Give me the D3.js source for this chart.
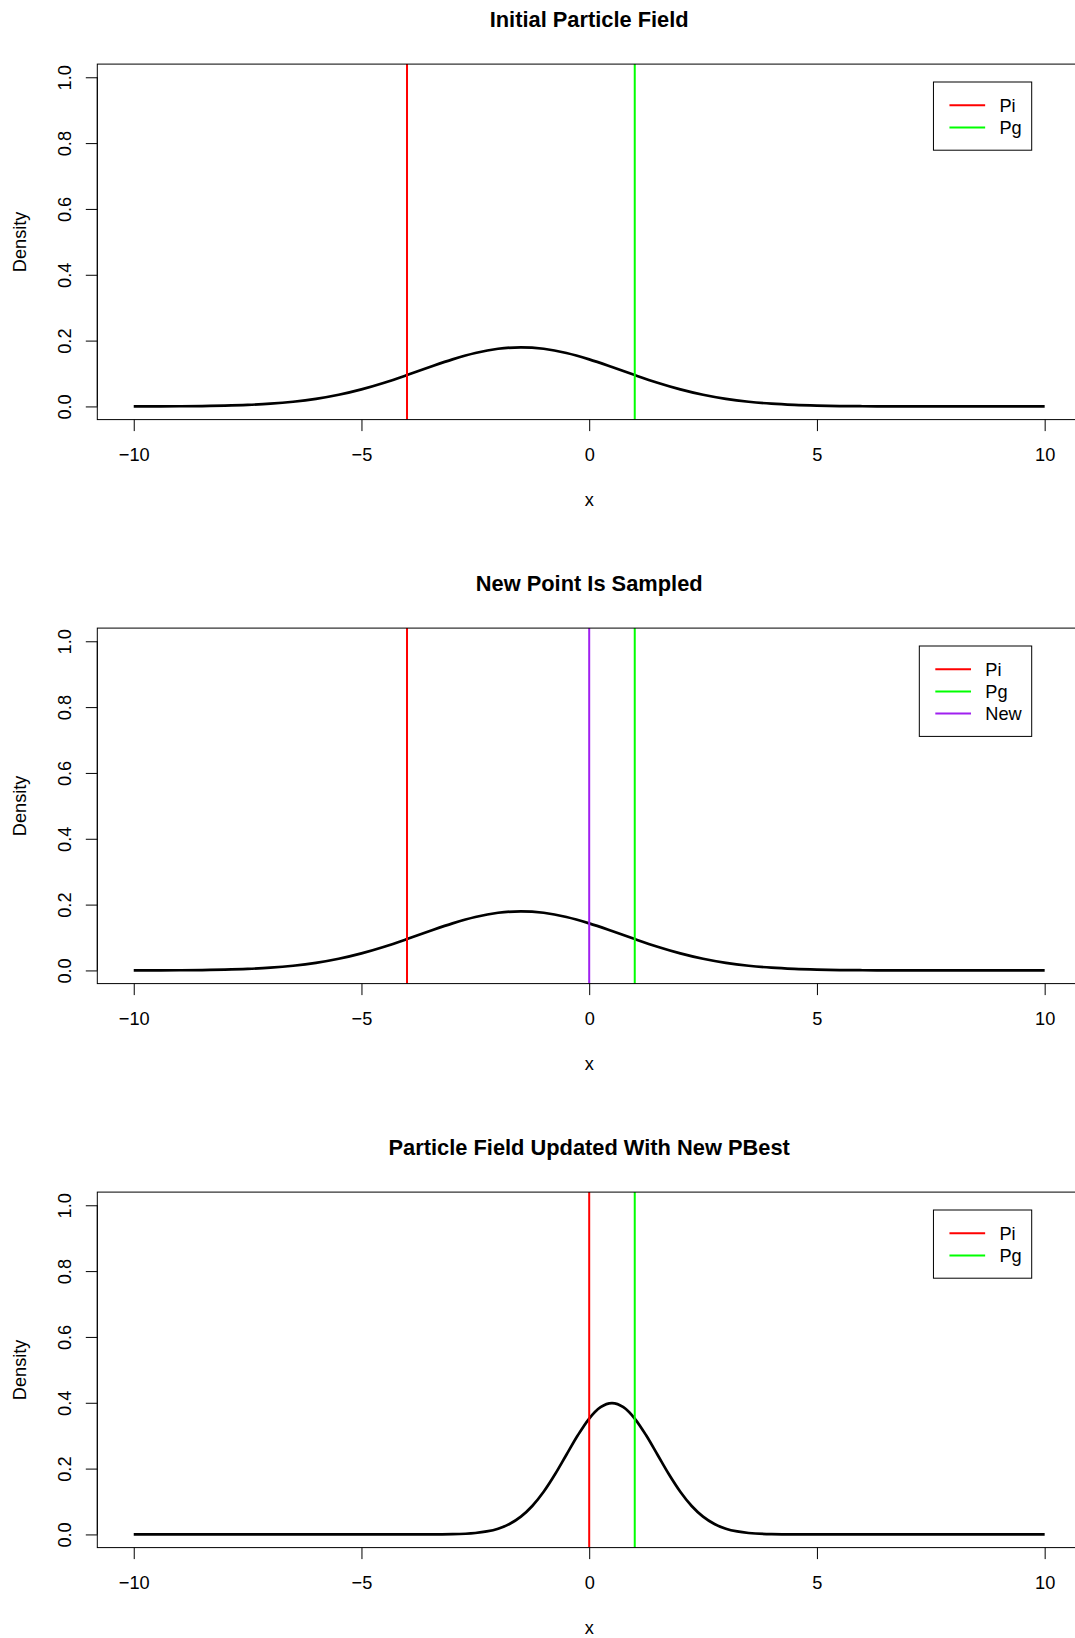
<!DOCTYPE html>
<html>
<head>
<meta charset="utf-8">
<script src="https://cdn.jsdelivr.net/npm/d3@7"></script>
<style>
  body { margin: 0; background: #fff; }
  text { font-family: "Liberation Sans", Arial, sans-serif; fill: #000; }
</style>
</head>
<body>
<svg id="chart" width="1075" height="1638"></svg>
<script>
// panel titles and axis ticks
const titles = ["Initial Particle Field", "New Point Is Sampled", "Particle Field Updated With New PBest"];
const xTicks = [-10, -5, 0, 5, 10];
const yTicks = [0, 0.2, 0.4, 0.6, 0.8, 1.0];

// wide density curve (panels 1 and 2)
const wideX = [-10, -9.5, -9, -8.5, -8, -7.5, -7, -6.5, -6, -5.5, -5, -4.5, -4, -3.5, -3, -2.5, -2, -1.5,
  -1, -0.5, 0, 0.5, 1, 1.5, 2, 2.5, 3, 3.5, 4, 4.5, 5, 5.5, 6, 6.5, 7, 7.5, 8, 8.5, 9, 9.5, 10];
const wideY = [0.0001, 0.0003, 0.0006, 0.0012, 0.0025, 0.0047, 0.0083, 0.0142, 0.0230, 0.0355, 0.0519, 0.0721,
  0.0953, 0.1198, 0.1430, 0.1624, 0.1752, 0.1797, 0.1752, 0.1624, 0.1430, 0.1198, 0.0953, 0.0721, 0.0519,
  0.0355, 0.0230, 0.0142, 0.0083, 0.0047, 0.0025, 0.0012, 0.0006, 0.0003, 0.0001, 0, 0, 0, 0, 0, 0];

// narrow density curve (panel 3)
const narrowX = [-10, -9, -8, -7, -6, -5, -4, -3.5, -3, -2.5, -2.25, -2, -1.75, -1.5, -1.25, -1, -0.75, -0.5,
  -0.25, 0, 0.25, 0.5, 0.75, 1, 1.25, 1.5, 1.75, 2, 2.25, 2.5, 2.75, 3, 3.25, 3.5, 4, 4.5, 5, 6, 7, 8, 9, 10];
const narrowY = [0, 0, 0, 0, 0, 0, 0, 0.0001, 0.0009, 0.0044, 0.0091, 0.0175, 0.0317, 0.0540, 0.0863, 0.1295,
  0.1826, 0.2420, 0.3011, 0.3521, 0.3867, 0.3989, 0.3867, 0.3521, 0.3011, 0.2420, 0.1826, 0.1295, 0.0863,
  0.0540, 0.0317, 0.0175, 0.0091, 0.0044, 0.0009, 0.0001, 0, 0, 0, 0, 0, 0];

// vertical markers per panel
const markerNames = [["Pi", "Pg"], ["Pi", "Pg", "New"], ["Pi", "Pg"]];
const markerValues = [[-4, 1], [-4, 1, 0], [0, 1]];

const curves = [[wideX, wideY], [wideX, wideY], [narrowX, narrowY]];
const colors = { Pi: "#FF0000", Pg: "#00FF00", New: "#A020F0" };

const svg = d3.select("#chart");
const panelH = 564;
const fontSize = 18.2;

const x = d3.scaleLinear().domain([-10.8, 10.8]).range([97.3, 1081.1]);

titles.forEach((title, p) => {
  const off = p * panelH;
  const g = svg.append("g").attr("transform", `translate(0,${off})`);
  const y = d3.scaleLinear().domain([-0.04, 1.04]).range([419.6, 64.1]);
  const [top, bottom] = [y.range()[1], y.range()[0]];

  // title
  g.append("text")
    .attr("x", (x.range()[0] + x.range()[1]) / 2)
    .attr("y", 27.2)
    .attr("text-anchor", "middle")
    .attr("font-weight", "bold")
    .attr("font-size", fontSize * 1.2)
    .text(title);

  // density curve
  const [cx, cy] = curves[p];
  const pts = cx.map((v, i) => [v, cy[i]]);
  g.append("path")
    .datum(pts)
    .attr("fill", "none")
    .attr("stroke", "#000")
    .attr("stroke-width", 2.7)
    .attr("d", d3.line().x(d => x(d[0])).y(d => y(d[1])).curve(d3.curveMonotoneX));

  // vertical lines
  markerValues[p].forEach((v, i) => {
    g.append("line")
      .attr("x1", x(v)).attr("x2", x(v))
      .attr("y1", top).attr("y2", bottom)
      .attr("stroke", colors[markerNames[p][i]])
      .attr("stroke-width", 2);
  });

  // box
  g.append("rect")
    .attr("x", x.range()[0]).attr("y", top)
    .attr("width", x.range()[1] - x.range()[0]).attr("height", bottom - top)
    .attr("fill", "none").attr("stroke", "#000").attr("stroke-width", 1);

  // x axis
  const xa = g.append("g")
    .attr("transform", `translate(0,${bottom})`)
    .call(d3.axisBottom(x).tickValues(xTicks).tickSize(11.5).tickSizeOuter(0).tickFormat(d3.format("d")));
  xa.select(".domain").remove();
  xa.selectAll("line").attr("stroke", "#000");
  xa.selectAll("text")
    .attr("y", 41).attr("dy", null)
    .attr("font-size", fontSize).attr("font-family", null);

  // y axis
  const ya = g.append("g")
    .attr("transform", `translate(${x.range()[0]},0)`)
    .call(d3.axisLeft(y).tickValues(yTicks).tickSize(11.5).tickSizeOuter(0).tickFormat(d3.format(".1f")));
  ya.select(".domain").attr("d", `M0,${y(0)}V${y(1)}`).attr("stroke", "#000");
  ya.selectAll("line").attr("stroke", "#000");
  ya.selectAll("text")
    .attr("x", 0).attr("dy", null)
    .attr("text-anchor", "middle")
    .attr("transform", "translate(-26.6,0) rotate(-90)")
    .attr("font-size", fontSize).attr("font-family", null);

  // axis labels
  g.append("text")
    .attr("x", (x.range()[0] + x.range()[1]) / 2)
    .attr("y", 505.5)
    .attr("text-anchor", "middle")
    .attr("font-size", fontSize)
    .text("x");
  g.append("text")
    .attr("transform", `translate(25.9,${(top + bottom) / 2}) rotate(-90)`)
    .attr("text-anchor", "middle")
    .attr("font-size", fontSize)
    .text("Density");

  // legend
  const names = markerNames[p];
  const rowY = i => 105.2 + 22.2 * i;
  const lg = g.append("g");
  const labels = names.map((n, i) => lg.append("text")
    .attr("y", rowY(i))
    .attr("dy", "0.35em")
    .attr("font-size", fontSize)
    .text(n));
  const maxW = d3.max(labels, t => t.node().getComputedTextLength());
  const right = 1031.7;
  const textX = right - 10 - maxW;
  const lineEnd = textX - 14.3;
  const lineStart = lineEnd - 35.7;
  const boxLeft = lineStart - 16;
  labels.forEach(t => t.attr("x", textX));
  names.forEach((n, i) => {
    lg.append("line")
      .attr("x1", lineStart).attr("x2", lineEnd)
      .attr("y1", rowY(i)).attr("y2", rowY(i))
      .attr("stroke", colors[n]).attr("stroke-width", 2);
  });
  lg.insert("rect", ":first-child")
    .attr("x", boxLeft).attr("y", 82)
    .attr("width", right - boxLeft)
    .attr("height", rowY(names.length - 1) + 22.8 - 82)
    .attr("fill", "#fff").attr("stroke", "#000").attr("stroke-width", 1);
});
</script>
</body>
</html>
